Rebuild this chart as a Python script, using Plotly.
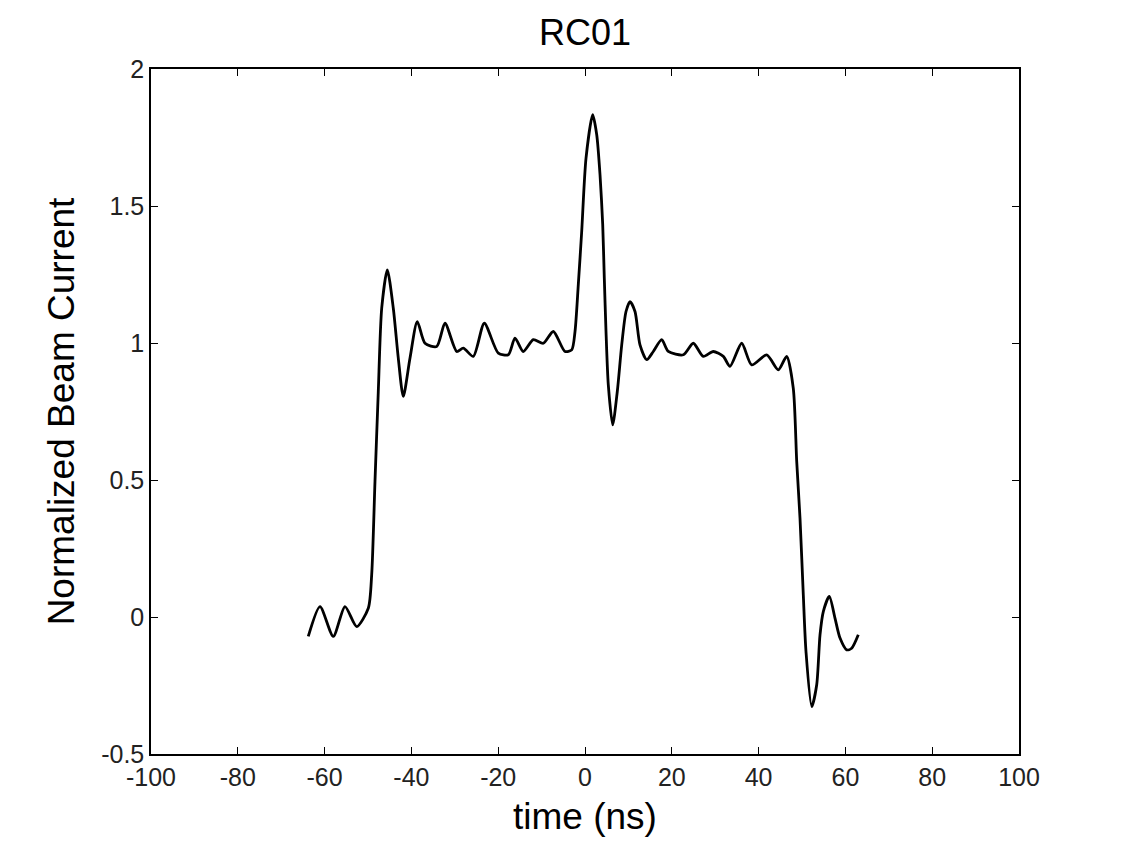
import plotly.graph_objects as go

# beam current trace
time_ns = [-63.76, -61.06, -58.0, -55.3, -52.6, -49.93, -49.15, -48.39, -47.63, -46.84,
           -45.55, -44.17, -43.02, -41.87, -40.32, -38.64, -36.87, -34.17, -32.26, -29.56,
           -28.04, -25.74, -23.2, -19.98, -17.67, -16.13, -14.22, -11.91, -9.61, -7.3,
           -4.61, -3.06, -2.3, -1.54, -0.76, 0.23, 1.77, 2.7, 3.46, 4.08,
           4.45, 4.84, 5.37, 6.38, 7.44, 8.46, 9.45, 10.37, 11.52, 12.67,
           14.22, 15.74, 17.67, 19.19, 22.65, 24.95, 27.26, 29.56, 31.87, 33.41,
           36.11, 38.41, 41.87, 44.54, 46.47, 47.99, 48.78, 49.54, 50.3, 50.92,
           52.24, 53.39, 54.15, 54.91, 56.29, 57.6, 58.76, 60.3, 61.45, 62.97]
current = [-0.071, 0.038, -0.071, 0.038, -0.035, 0.032, 0.155, 0.495, 0.823, 1.127,
           1.267, 1.127, 0.945, 0.805, 0.945, 1.078, 0.999, 0.987, 1.072, 0.969,
           0.981, 0.951, 1.072, 0.963, 0.957, 1.018, 0.969, 1.012, 0.999, 1.042,
           0.969, 0.975, 1.042, 1.214, 1.407, 1.674, 1.833, 1.76, 1.614, 1.432,
           1.236, 1.042, 0.847, 0.701, 0.823, 0.993, 1.115, 1.151, 1.115, 0.993,
           0.939, 0.969, 1.012, 0.969, 0.957, 0.999, 0.951, 0.969, 0.951, 0.915,
           0.999, 0.92, 0.957, 0.902, 0.951, 0.835, 0.568, 0.361, 0.081, -0.126,
           -0.327, -0.247, -0.065, 0.02, 0.075, -0.004, -0.077, -0.12, -0.114, -0.065]

x_ticks = [-100, -80, -60, -40, -20, 0, 20, 40, 60, 80, 100]
x_labels = ['-100', '-80', '-60', '-40', '-20', '0', '20', '40', '60', '80', '100']
y_ticks = [-0.5, 0, 0.5, 1, 1.5, 2]
y_labels = ['-0.5', '0', '0.5', '1', '1.5', '2']

font = 'Liberation Sans, Arial, sans-serif'

fig = go.Figure()
fig.add_trace(go.Scatter(x=time_ns, y=current, mode='lines',
                         line=dict(color='black', width=2.8, shape='spline', smoothing=0.7),
                         showlegend=False))

axis_style = dict(showline=True, linecolor='black', linewidth=1.5, mirror='ticks',
                  ticks='inside', ticklen=7, tickwidth=1.3, tickcolor='black',
                  showgrid=False, zeroline=False,
                  tickfont=dict(family=font, size=25, color='#222'))

fig.update_xaxes(range=[-100, 100], tickvals=x_ticks, ticktext=x_labels, ticklabelstandoff=0,
                 title=dict(text='time (ns)', font=dict(family=font, size=37, color='black'),
                            standoff=13),
                 **axis_style)
fig.update_yaxes(range=[-0.5, 2], tickvals=y_ticks, ticktext=y_labels, ticklabelstandoff=0,
                 title=dict(text='Normalized Beam Current',
                            font=dict(family=font, size=37, color='black'), standoff=15),
                 **axis_style)

# page body adds an 8px offset, so margins are shifted to keep the plot box in place
fig.update_layout(width=1121, height=849,
                  margin=dict(l=143, r=110, t=61, b=103),
                  paper_bgcolor='white', plot_bgcolor='white',
                  title=dict(text='RC01', x=0.5, xanchor='center', xref='paper',
                             y=1 - 24 / 849, yref='container', yanchor='middle',
                             font=dict(family=font, size=36, color='black')))

fig.write_html('out.html')
